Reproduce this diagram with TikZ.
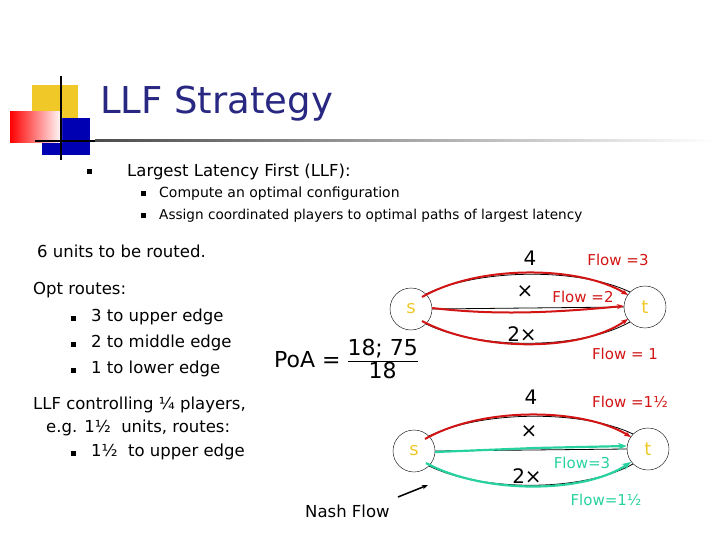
\documentclass[tikz,border=0pt]{standalone}
\usepackage{fontspec}
\setmainfont{DejaVu Sans}
\usetikzlibrary{arrows.meta}
\definecolor{navy}{RGB}{40,40,130}
\definecolor{fred}{RGB}{210,20,20}
\definecolor{tealg}{RGB}{40,210,160}
\definecolor{sy}{RGB}{240,200,40}
\begin{document}
\begin{tikzpicture}[x=1pt,y=-1pt,
 txt/.style={anchor=west,inner sep=0pt,font=\fontsize{16.5}{19}\selectfont},
 sml/.style={anchor=west,inner sep=0pt,font=\fontsize{14}{17}\selectfont},
 bul/.style={fill=black,minimum size=5pt,inner sep=0pt},
 vtx/.style={circle,draw,minimum size=42pt,inner sep=0pt,text=sy,font=\fontsize{18}{20}\selectfont},
 lab/.style={inner sep=0pt,font=\fontsize{20}{22}\selectfont},
 rf/.style={inner sep=0pt,text=fred,font=\fontsize{15}{17}\selectfont},
 tf/.style={inner sep=0pt,text=tealg,font=\fontsize{15}{17}\selectfont},
 red/.style={draw=fred,line width=2pt,-{Stealth[length=7pt]}},
 grn/.style={draw=tealg,line width=2.2pt,-{Stealth[length=9pt]}}]
\useasboundingbox (0,0) rectangle (720,540);
% logo
\fill[sy] (32,85) rectangle (78,123);
\fill[blue!70!black] (42,118) rectangle (90,155);
\shade[left color=red,right color=white] (10,112) rectangle (62,143);
\draw[line width=1.5pt] (61,76) -- (61,160);
\draw[line width=1.2pt] (35,141) -- (95,141);
\shade[left color=black!70,right color=white] (95,140) rectangle (715,142);
\node[anchor=west,inner sep=0pt,text=navy,font=\fontsize{37}{40}\selectfont] (title) at (100,104) {LLF Strategy};
% bullets
\node[bul] (b0) at (89,172) {};
\node[txt] (t0) at (127,172) {Largest Latency First (LLF):};
\node[bul] (b1) at (143,194) {};
\node[sml] (t1) at (159,194) {Compute an optimal configuration};
\node[bul] (b2) at (143,216) {};
\node[sml,font=\fontsize{13.6}{16}\selectfont] (t2) at (159,216) {Assign coordinated players to optimal paths of largest latency};
\node[txt] (u) at (37,251) {6 units to be routed.};
\node[txt] (o) at (33,290) {Opt routes:};
\node[bul] (c1) at (73,318) {}; \node[txt] (o1) at (91,317) {3 to upper edge};
\node[bul] (c2) at (73,344) {}; \node[txt] (o2) at (91,343) {2 to middle edge};
\node[bul] (c3) at (73,370) {}; \node[txt] (o3) at (91,369) {1 to lower edge};
\node[txt] (l1) at (33,405) {LLF controlling ¼ players,};
\node[txt] (l2) at (46,428) {e.g. 1½\ \ units, routes:};
\node[bul] (c4) at (73,453) {}; \node[txt] (l3) at (91,452) {1½\ \ to upper edge};
\node[inner sep=0pt,font=\fontsize{22}{24}\selectfont] (poa) at (346,362) {PoA = \begin{tabular}{@{}c@{}}18; 75\\[-2pt]\hline 18\end{tabular}};
\node[txt] (nash) at (305,511) {Nash Flow};
\coordinate (na) at (398,497); \coordinate (nb) at (428,485);
\draw[line width=1.5pt,-{Stealth[length=6pt]}] (na) -- (nb);
% graph 1
\node[vtx] (s1) at (411,309) {s};
\node[vtx] (t1n) at (645,307) {t};
\draw[thick] (s1.north east) .. controls (480,268) and (580,268) .. (t1n.north west);
\draw[thick] (s1.east) -- (t1n.west);
\draw[thick] (s1.south east) .. controls (480,350) and (580,350) .. (t1n.south west);
\draw[red] ([xshift=-4pt,yshift=-3pt]s1.north east) .. controls (480,264) and (580,266) .. ([xshift=-2pt,yshift=-3pt]t1n.north west);
\draw[red] ([yshift=1pt]s1.east) .. controls (500,316) and (560,312) .. ([yshift=1pt]t1n.west);
\draw[red] ([xshift=-4pt,yshift=3pt]s1.south east) .. controls (480,352) and (580,352) .. ([xshift=-2pt,yshift=3pt]t1n.south west);
\node[lab] (w1) at (530,258) {4};
\node[lab] (w2) at (525,292) {×};
\node[lab] (w3) at (522,334) {2×};
\node[rf] (f1) at (618,260) {Flow =3};
\node[rf] (f2) at (583,297) {Flow =2};
\node[rf] (f3) at (625,354) {Flow = 1};
% graph 2
\node[vtx] (s2) at (414,451) {s};
\node[vtx] (t2n) at (648,449) {t};
\draw[thick] (s2.north east) .. controls (483,410) and (583,410) .. (t2n.north west);
\draw[thick] (s2.east) -- (t2n.west);
\draw[thick] (s2.south east) .. controls (483,492) and (583,492) .. (t2n.south west);
\draw[red] ([xshift=-4pt,yshift=-3pt]s2.north east) .. controls (483,406) and (583,408) .. ([xshift=-2pt,yshift=-3pt]t2n.north west);
\draw[grn] ([yshift=-1pt]s2.east) -- (535,448) -- ([yshift=3pt]t2n.west);
\draw[grn] ([xshift=-3pt,yshift=3pt]s2.south east) .. controls (483,494) and (583,494) .. ([xshift=-2pt,yshift=2pt]t2n.south west);
\node[lab] (v1) at (531,397) {4};
\node[lab] (v2) at (529,432) {×};
\node[lab] (v3) at (527,476) {2×};
\node[rf] (g1) at (630,402) {Flow =1½};
\node[tf] (g2) at (582,463) {Flow=3};
\node[tf] (g3) at (606,500) {Flow=1½};
\end{tikzpicture}
\end{document}
